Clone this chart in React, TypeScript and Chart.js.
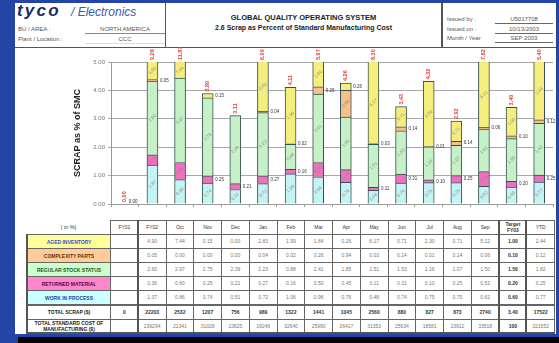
import React, { useEffect, useRef } from "react";
import { Chart, registerables } from "chart.js";

Chart.register(...registerables);

const CATEGORIES = ["FY01", "FY02", "Oct", "Nov", "Dec", "Jan", "Feb", "Mar", "Apr", "May", "Jun", "Jul", "Aug", "Sep", "Target FY03", "YTD"];
const HEAD_LABELS = ["FY01", "FY02", "Oct", "Nov", "Dec", "Jan", "Feb", "Mar", "Apr", "May", "Jun", "Jul", "Aug", "Sep", "Target\nFY03", "YTD"];

const WORK_IN_PROCESS = [null, 1.37, 0.86, 0.74, 0.51, 0.72, 1.06, 0.96, 0.76, 0.48, 0.74, 0.75, 0.75, 0.62, 0.60, 0.77];
const RETURNED_MATERIAL = [null, 0.36, 0.60, 0.25, 0.21, 0.27, 0.16, 0.50, 0.45, 0.11, 0.31, 0.10, 0.25, 0.52, 0.20, 0.25];
const REGULAR_STOCK = [null, 2.60, 2.97, 2.75, 2.39, 2.23, 0.88, 2.41, 1.85, 1.51, 1.53, 1.16, 1.07, 1.50, 1.50, 1.82];
const COMPLEXITY_PARTS = [null, 0.05, 0.00, 0.00, 0.00, 0.04, 0.02, 0.26, 0.94, 0.03, 0.14, 0.01, 0.14, 0.06, 0.10, 0.12];
const AGED_INVENTORY = [null, 4.90, 7.44, 0.15, 0.00, 2.83, 1.99, 1.84, 0.26, 6.17, 0.71, 2.30, 0.71, 5.12, 1.00, 2.44];
const TOTAL_SCRAP = ["0", "22203", "2532", "1207", "756", "989", "1322", "1441", "1045", "2560", "880", "827", "873", "2740", "3.40", "17522"];
const TOTAL_STD_COST = ["", "239294", "21341", "31028", "23625", "19246", "32640", "25990", "26417", "31353", "25634", "18581", "23912", "33518", "100", "321552"];

const Y_TICKS = [0, 1, 2, 3, 4, 5];

const FONT = "'Liberation Sans', Arial, sans-serif";
const BLUE = "#2444a8";

const SERIES = [
  { name: "WORK IN PROCESS", data: WORK_IN_PROCESS, bar: "#c4f3f3", cell: "#ccffff", text: "#2244aa" },
  { name: "RETURNED MATERIAL", data: RETURNED_MATERIAL, bar: "#f070c0", cell: "#ff88cc", text: "#660044" },
  { name: "REGULAR STOCK STATUS", data: REGULAR_STOCK, bar: "#c6f0c6", cell: "#ccffcc", text: "#225522" },
  { name: "COMPLEXITY PARTS", data: COMPLEXITY_PARTS, bar: "#f7bf8a", cell: "#ffcc99", text: "#663300" },
  { name: "AGED INVENTORY", data: AGED_INVENTORY, bar: "#f6ee7c", cell: "#ffff99", text: "#3355cc" },
];

const labelPlugin = {
  id: "segLabels",
  afterDatasetsDraw(chart: any) {
    const ctx = chart.ctx;
    const area = chart.chartArea;
    const n = CATEGORIES.length;
    ctx.save();
    for (let i = 0; i < n; i++) {
      let total = 0;
      let topY = area.bottom;
      let xCenter = 0;
      chart.data.datasets.forEach((ds: any, di: number) => {
        const v = ds.data[i];
        const el = chart.getDatasetMeta(di).data[i];
        if (!el) return;
        xCenter = el.x;
        if (v == null) return;
        total += v;
        const yTop = Math.max(el.y, area.top);
        const yBase = Math.min(el.base, area.bottom);
        if (yTop < topY) topY = yTop;
        if (el.y < area.top - 1 && el.base < area.top) return;
        const h = yBase - yTop;
        const mid = (yTop + yBase) / 2;
        const txt = v.toFixed(2);
        if (h > 9) {
          ctx.save();
          ctx.translate(el.x, mid);
          ctx.rotate(-Math.PI / 4);
          ctx.font = `4.5px ${FONT}`;
          ctx.fillStyle = "#8a8a8a";
          ctx.textAlign = "center";
          ctx.textBaseline = "middle";
          ctx.fillText(txt, 0, 0);
          ctx.restore();
        } else if (v > 0) {
          ctx.font = `4.5px ${FONT}`;
          ctx.fillStyle = "#333";
          ctx.textAlign = "left";
          ctx.textBaseline = "middle";
          ctx.fillText(txt, el.x + el.width / 2 + 2, mid);
        }
      });
      if (i === 0) {
        const xs = chart.scales.x.getPixelForValue(0);
        xCenter = xs;
        ctx.font = `4.5px ${FONT}`;
        ctx.fillStyle = "#222";
        ctx.textAlign = "left";
        ctx.textBaseline = "middle";
        ctx.fillText("0.00", xs + 4, area.bottom - 2);
      }
      ctx.save();
      ctx.translate(xCenter, topY - 2);
      ctx.rotate(-Math.PI / 2);
      ctx.font = `bold 5.5px ${FONT}`;
      ctx.fillStyle = "#e8403a";
      ctx.textAlign = "left";
      ctx.textBaseline = "middle";
      ctx.fillText(total.toFixed(2), 0, 0);
      ctx.restore();
    }
    ctx.restore();
  },
};

function ChartCanvas() {
  const ref = useRef<HTMLCanvasElement | null>(null);
  useEffect(() => {
    if (!ref.current) return;
    const chart = new Chart(ref.current, {
      type: "bar",
      data: {
        labels: CATEGORIES,
        datasets: SERIES.map((s) => ({
          label: s.name,
          data: s.data.map((v) => (v == null ? null : v)),
          backgroundColor: s.bar,
          borderColor: "#35504f",
          borderWidth: 1,
          barThickness: 11,
        })),
      },
      options: {
        animation: false,
        responsive: false,
        maintainAspectRatio: false,
        layout: { padding: { top: 15, right: 3, left: 53, bottom: 0 } },
        plugins: { legend: { display: false }, tooltip: { enabled: false } },
        scales: {
          x: {
            stacked: true,
            ticks: { display: false },
            grid: { display: true, drawOnChartArea: false, drawTicks: true, tickLength: 3, color: "#999", offset: true },
            border: { display: true, color: "#999" },
            afterFit: (s: any) => {
              s.height = 13;
            },
          },
          y: {
            stacked: true,
            min: 0,
            max: 5,
            afterBuildTicks: (s: any) => {
              s.ticks = Y_TICKS.map((v) => ({ value: v }));
            },
            ticks: {
              callback: (v: any) => Number(v).toFixed(2),
              font: { size: 6, family: FONT },
              color: "#777",
              padding: 3,
            },
            grid: { color: "#a8a8a8", drawTicks: true, tickLength: 3 },
            border: { display: true, color: "#999" },
            title: {
              display: true,
              text: "SCRAP as % of SMC",
              font: { size: 9, weight: "bold", family: FONT },
              color: "#222",
              padding: { top: 4, bottom: 0 },
            },
            afterFit: (s: any) => {
              s.width = 43;
            },
          },
        },
      },
      plugins: [labelPlugin],
    } as any);
    return () => chart.destroy();
  }, []);
  return <canvas ref={ref} width={541} height={170} style={{ position: "absolute", left: 15, top: 47, width: 541, height: 170 }} />;
}

const abs = (l: number, t: number, w?: number, h?: number, extra: any = {}) => ({
  position: "absolute" as const,
  left: l,
  top: t,
  width: w,
  height: h,
  ...extra,
});

function Table() {
  const labelLeft = 27;
  const colLeft = 110;
  const colW = 27.75;
  const headTop = 220;
  const rowTop = 234;
  const rowH = 14.1;
  const cells: any[] = [];
  const border = "1px solid #666";
  cells.push(
    <div key="inpct" style={abs(labelLeft, headTop, colLeft - labelLeft, rowTop - headTop, { fontSize: 5.5, color: "#333", textAlign: "center", lineHeight: `${rowTop - headTop}px` })}>
      ( in %)
    </div>
  );
  HEAD_LABELS.forEach((h, c) => {
    const lines = h.split("\n");
    cells.push(
      <div
        key={"h" + c}
        style={abs(colLeft + c * colW, headTop, colW + 1, rowTop - headTop + 1, {
          border,
          boxSizing: "border-box",
          fontSize: 5,
          color: "#333",
          display: "flex",
          flexDirection: "column",
          alignItems: "center",
          justifyContent: "center",
          lineHeight: "5.5px",
          fontWeight: c === 14 ? "bold" : "normal",
        })}
      >
        {lines.map((l, k) => (
          <span key={k}>{l}</span>
        ))}
      </div>
    );
  });
  const rows: { label: string[]; bg: string; color: string; values: string[]; bold?: boolean }[] = [];
  [...SERIES].reverse().forEach((s) => {
    rows.push({ label: [s.name], bg: s.cell, color: s.text, values: s.data.map((v) => (v == null ? "" : v.toFixed(2))) });
  });
  rows.push({ label: ["TOTAL SCRAP ($)"], bg: "#fff", color: "#222", values: TOTAL_SCRAP, bold: true });
  rows.push({ label: ["TOTAL STANDARD COST OF", "MANUFACTURING ($)"], bg: "#fff", color: "#222", values: TOTAL_STD_COST });
  rows.forEach((r, ri) => {
    const top = rowTop + ri * rowH;
    cells.push(
      <div
        key={"l" + ri}
        style={abs(labelLeft, top, colLeft - labelLeft + 1, rowH + 1, {
          border,
          boxSizing: "border-box",
          background: r.bg,
          color: r.color,
          fontSize: 5,
          fontWeight: "bold",
          display: "flex",
          flexDirection: "column",
          alignItems: "center",
          justifyContent: "center",
          lineHeight: "6px",
        })}
      >
        {r.label.map((l, k) => (
          <span key={k}>{l}</span>
        ))}
      </div>
    );
    r.values.forEach((v, c) => {
      cells.push(
        <div
          key={"c" + ri + "_" + c}
          style={abs(colLeft + c * colW, top, colW + 1, rowH + 1, {
            border,
            boxSizing: "border-box",
            background: "#fff",
            color: r.bold || c === 14 ? "#333" : "#777",
            fontSize: 5,
            fontWeight: r.bold || c === 14 ? "bold" : "normal",
            textAlign: "center",
            lineHeight: `${rowH - 1}px`,
          })}
        >
          {v}
        </div>
      );
    });
  });
  const bottom = rowTop + rows.length * rowH + 1;
  const thick = (x: number, y0: number, y1: number, k: string) => (
    <div key={k} style={abs(x - 1, y0, 2, y1 - y0, { background: "#555" })} />
  );
  cells.push(thick(labelLeft, rowTop, bottom, "t0"));
  cells.push(thick(colLeft + colW, headTop, bottom, "t1"));
  cells.push(thick(colLeft + 14 * colW, headTop, bottom, "t2"));
  cells.push(thick(colLeft + 15 * colW, headTop, bottom, "t3"));
  cells.push(<div key="tb" style={abs(labelLeft, bottom - 2, colLeft + 16 * colW - labelLeft + 1, 2, { background: "#555" })} />);
  return <>{cells}</>;
}

function Header() {
  const line = "#555";
  const small = { fontSize: 6, color: "#555", whiteSpace: "nowrap" as const };
  return (
    <>
      <div style={abs(15, 47, 541, 1, { background: line })} />
      <div style={abs(165, 3, 1, 44, { background: line })} />
      <div style={abs(441, 3, 2, 44, { background: line })} />
      <div style={abs(17, 2, 60, 18, { fontSize: 17, fontWeight: 900, fontStyle: "italic", color: "#1b2a6b", lineHeight: "18px", letterSpacing: 2.2 })}>tyco</div>
      <div style={abs(71, 4, 100, 16, { fontSize: 12, fontStyle: "italic", color: "#3a58b0", lineHeight: "16px", whiteSpace: "nowrap" })}>/ Electronics</div>
      <div style={abs(18, 25, 60, 8, { ...small, lineHeight: "8px" })}>BU / AREA :</div>
      <div style={abs(85, 25, 80, 8, { ...small, lineHeight: "8px", textAlign: "center" })}>NORTH AMERICA</div>
      <div style={abs(85, 33, 80, 1, { background: "#7a8aa8" })} />
      <div style={abs(18, 35, 60, 8, { ...small, lineHeight: "8px" })}>Plant / Location :</div>
      <div style={abs(85, 35, 80, 8, { ...small, lineHeight: "8px", textAlign: "center" })}>CCC</div>
      <div style={abs(85, 43, 80, 1, { background: "#d8dde6" })} />
      <div style={abs(166, 13, 275, 9, { fontSize: 7.5, fontWeight: "bold", color: "#222", textAlign: "center", lineHeight: "9px" })}>GLOBAL QUALITY OPERATING SYSTEM</div>
      <div style={abs(166, 23, 275, 9, { fontSize: 7, fontWeight: "bold", color: "#222", textAlign: "center", lineHeight: "9px" })}>2.6 Scrap as Percent of Standard Manufacturing Cost</div>
      <div style={abs(447, 15, 50, 8, { ...small, lineHeight: "8px" })}>Issued by :</div>
      <div style={abs(447, 25, 50, 8, { ...small, lineHeight: "8px" })}>Issued on :</div>
      <div style={abs(447, 34, 50, 8, { ...small, lineHeight: "8px" })}>Month / Year</div>
      <div style={abs(495, 15, 58, 8, { ...small, lineHeight: "8px", textAlign: "center" })}>U5017708</div>
      <div style={abs(495, 25, 58, 8, { ...small, lineHeight: "8px", textAlign: "center" })}>10/13/2003</div>
      <div style={abs(495, 34, 58, 8, { ...small, lineHeight: "8px", textAlign: "center" })}>SEP 2003</div>
      <div style={abs(495, 23, 58, 1, { background: "#666" })} />
      <div style={abs(495, 33, 58, 1, { background: "#666" })} />
      <div style={abs(495, 42, 58, 1, { background: "#666" })} />
    </>
  );
}

export default function App() {
  return (
    <div style={{ position: "fixed", left: 0, top: 0, width: 559, height: 343, background: BLUE, overflow: "hidden", fontFamily: FONT }}>
      <div style={abs(18, 337, 541, 6, { background: "#050505" })} />
      <div style={abs(15, 3, 541, 331, { background: "#fff" })} />
      <Header />
      <ChartCanvas />
      <Table />
    </div>
  );
}
